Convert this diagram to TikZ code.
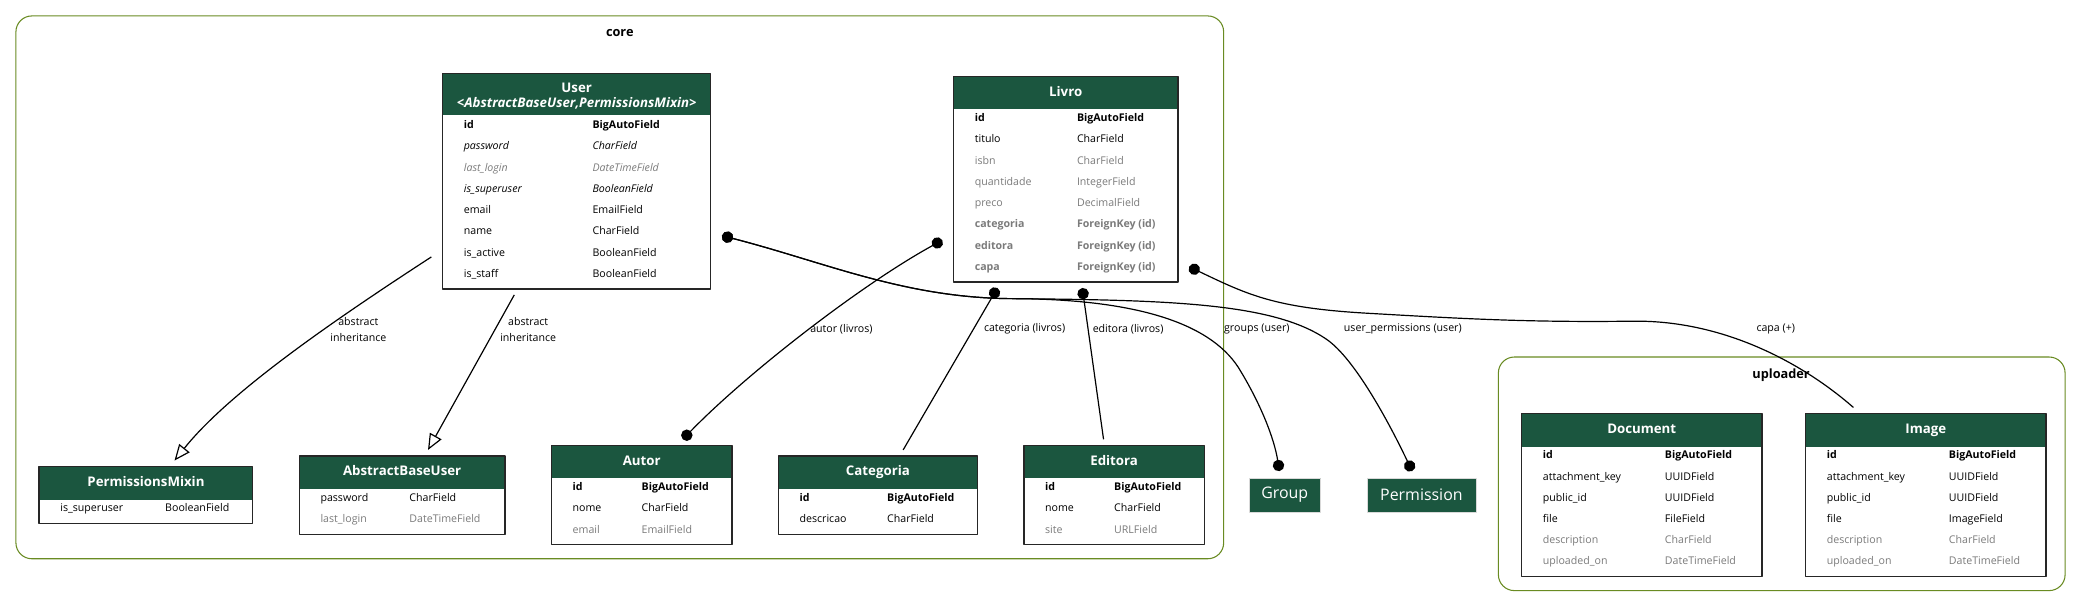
\documentclass[tikz,border=0pt]{standalone}
\usepackage{fontspec}
\setmainfont{Open Sans}
\usetikzlibrary{arrows.meta}
\definecolor{hdr}{HTML}{1B563F}
\definecolor{clusterc}{HTML}{698B22}
\definecolor{nullgray}{HTML}{7B7B7B}
\newcommand{\nul}[1]{\textcolor{nullgray}{#1}}
\newcommand{\hd}[1]{\multicolumn{2}{@{}c@{}}{\color{white}\bfseries\fontsize{10}{11}\selectfont #1\rule[-8pt]{0pt}{23pt}}\\}

\begin{document}
\begin{tikzpicture}[x=1pt, y=-1pt, line join=round,
  tbl/.style={draw=black!85, line width=1pt, fill=white, inner sep=0pt, anchor=north west,
    font=\fontsize{8}{16}\selectfont,
    path picture={\fill[hdr] (path picture bounding box.north west) rectangle ([yshift=-#1]path picture bounding box.north east);}},
  tbl/.default=25pt,
  ext/.style={fill=hdr, draw=black!15, line width=0.5pt, text=white, minimum height=25.6pt, inner sep=0pt, font=\fontsize{12}{13}\selectfont},
  cluster/.style={draw=clusterc, line width=0.8pt, rounded corners=12pt},
  clabel/.style={font=\fontsize{9.6}{11}\selectfont\bfseries, inner sep=0pt},
  elabel/.style={font=\fontsize{8}{12}\selectfont, align=center, inner sep=0pt},
  fkdot/.tip={Circle[length=8.6pt]},
  fk/.style={line width=0.9pt},
  inh/.style={line width=0.9pt, -{Triangle[open, length=12pt, width=10pt]}}]
\useasboundingbox (0,0) rectangle (1568,459);
% clusters
\draw[cluster] (12,12) rectangle (922,421);
\draw[cluster] (1129,269) rectangle (1556,445);
\node[clabel] (core-label) at (467,25) {core};
\node[clabel] (uploader-label) at (1342,283) {uploader};
% core
\node[tbl=31pt] (user) at (333,55) {\begin{tabular}{@{\hspace{16pt}}p{97pt}@{}p{89pt}@{}}
\multicolumn{2}{@{}c@{}}{\color{white}\bfseries\fontsize{10}{10.8}\selectfont\begin{tabular}[b]{@{}c@{}}User\\\itshape <AbstractBaseUser,PermissionsMixin>\end{tabular}\rule[-3.6pt]{0pt}{29pt}}\\
\textbf{id} & \textbf{BigAutoField}\\
\textit{password} & \textit{CharField}\\
\nul{\textit{last\_login}} & \nul{\textit{DateTimeField}}\\
\textit{is\_superuser} & \textit{BooleanField}\\
email & EmailField\\
name & CharField\\
is\_active & BooleanField\\
is\_staff & BooleanField\\[4pt]
\end{tabular}};
\node[tbl] (livro) at (718,57) {\begin{tabular}{@{\hspace{16pt}}p{77pt}@{}p{76pt}@{}}
\hd{Livro}
\textbf{id} & \textbf{BigAutoField}\\
titulo & CharField\\
\nul{isbn} & \nul{CharField}\\
\nul{quantidade} & \nul{IntegerField}\\
\nul{preco} & \nul{DecimalField}\\
\nul{\textbf{categoria}} & \nul{\textbf{ForeignKey (id)}}\\
\nul{\textbf{editora}} & \nul{\textbf{ForeignKey (id)}}\\
\nul{\textbf{capa}} & \nul{\textbf{ForeignKey (id)}}\\[4pt]
\end{tabular}};
\node[tbl] (pmixin) at (29,351) {\begin{tabular}{@{\hspace{16pt}}p{79pt}@{}p{66pt}@{}}
\hd{PermissionsMixin}
is\_superuser & BooleanField\\[4pt]
\end{tabular}};
\node[tbl] (abuser) at (225,343) {\begin{tabular}{@{\hspace{16pt}}p{67pt}@{}p{72pt}@{}}
\hd{AbstractBaseUser}
password & CharField\\
\nul{last\_login} & \nul{DateTimeField}\\[4pt]
\end{tabular}};
\node[tbl] (autor) at (415,335) {\begin{tabular}{@{\hspace{16pt}}p{52pt}@{}p{68pt}@{}}
\hd{Autor}
\textbf{id} & \textbf{BigAutoField}\\
nome & CharField\\
\nul{email} & \nul{EmailField}\\[4pt]
\end{tabular}};
\node[tbl] (categoria) at (586,343) {\begin{tabular}{@{\hspace{16pt}}p{66pt}@{}p{68pt}@{}}
\hd{Categoria}
\textbf{id} & \textbf{BigAutoField}\\
descricao & CharField\\[4pt]
\end{tabular}};
\node[tbl] (editora) at (771,335) {\begin{tabular}{@{\hspace{16pt}}p{52pt}@{}p{68pt}@{}}
\hd{Editora}
\textbf{id} & \textbf{BigAutoField}\\
nome & CharField\\
\nul{site} & \nul{URLField}\\[4pt]
\end{tabular}};
\node[ext, minimum width=54pt] (group) at (968,373) {Group};
\node[ext, minimum width=82pt] (permission) at (1071,373) {Permission};
% uploader
\node[tbl] (document) at (1146,311) {\begin{tabular}{@{\hspace{16pt}}p{92pt}@{}p{73pt}@{}}
\hd{Document}
\textbf{id} & \textbf{BigAutoField}\\
attachment\_key & UUIDField\\
public\_id & UUIDField\\
file & FileField\\
\nul{description} & \nul{CharField}\\
\nul{uploaded\_on} & \nul{DateTimeField}\\[4pt]
\end{tabular}};
\node[tbl] (image) at (1360,311) {\begin{tabular}{@{\hspace{16pt}}p{92pt}@{}p{73pt}@{}}
\hd{Image}
\textbf{id} & \textbf{BigAutoField}\\
attachment\_key & UUIDField\\
public\_id & UUIDField\\
file & ImageField\\
\nul{description} & \nul{CharField}\\
\nul{uploaded\_on} & \nul{DateTimeField}\\[4pt]
\end{tabular}};
% relations
\draw[inh] ([xshift=-8pt,yshift=-57pt]user.west) .. controls +(-80,52) and +(40,-50) .. ([xshift=21.5pt,yshift=4pt]pmixin.north);
\draw[inh] ([xshift=-47pt,yshift=-4pt]user.south) -- ([xshift=19.5pt,yshift=4pt]abuser.north);
\draw[fk, fkdot-fkdot] ([xshift=-8pt,yshift=-46pt]livro.west) .. controls (648,215) and (562,282) .. ([xshift=31pt,yshift=4pt]autor.north);
\draw[fk, fkdot-] ([xshift=-51.5pt,yshift=-4pt]livro.south) -- ([xshift=19pt,yshift=4pt]categoria.north);
\draw[fk, fkdot-] ([xshift=12.5pt,yshift=-4pt]livro.south) -- ([xshift=-8pt,yshift=4pt]editora.north);
\draw[fk, fkdot-fkdot] ([xshift=8pt,yshift=-41pt]user.east) .. controls (620,197) and (680,224) .. (760,225) .. controls (860,225) and (915,245) .. (935,280) .. controls (950,305) and (960,330) .. ([xshift=-4pt,yshift=5pt]group.north);
\draw[fk, fkdot-fkdot] ([xshift=8pt,yshift=-41pt]user.east) .. controls (620,197) and (680,224) .. (760,225) .. controls (880,226) and (960,228) .. (1000,256) .. controls (1020,270) and (1045,315) .. ([xshift=-7pt,yshift=5pt]permission.north);
\draw[fk, fkdot-] ([xshift=8pt,yshift=-66pt]livro.east) .. controls (940,222) and (960,232) .. (1030,236) .. controls (1100,240) and (1150,243) .. (1230,242) .. controls (1300,241) and (1360,275) .. ([xshift=-54.5pt,yshift=4pt]image.north);
% labels
\node[elabel] (l-abs1) at (270,248) {abstract\\inheritance};
\node[elabel] (l-abs2) at (398,248) {abstract\\inheritance};
\node[elabel] (l-autor) at (634,248) {autor (livros)};
\node[elabel] (l-cat) at (772,248) {categoria (livros)};
\node[elabel] (l-edi) at (850,248) {editora (livros)};
\node[elabel] (l-grp) at (947,248) {groups (user)};
\node[elabel] (l-perm) at (1057,248) {user\_permissions (user)};
\node[elabel] (l-capa) at (1338,248) {capa (+)};
\end{tikzpicture}
\end{document}
